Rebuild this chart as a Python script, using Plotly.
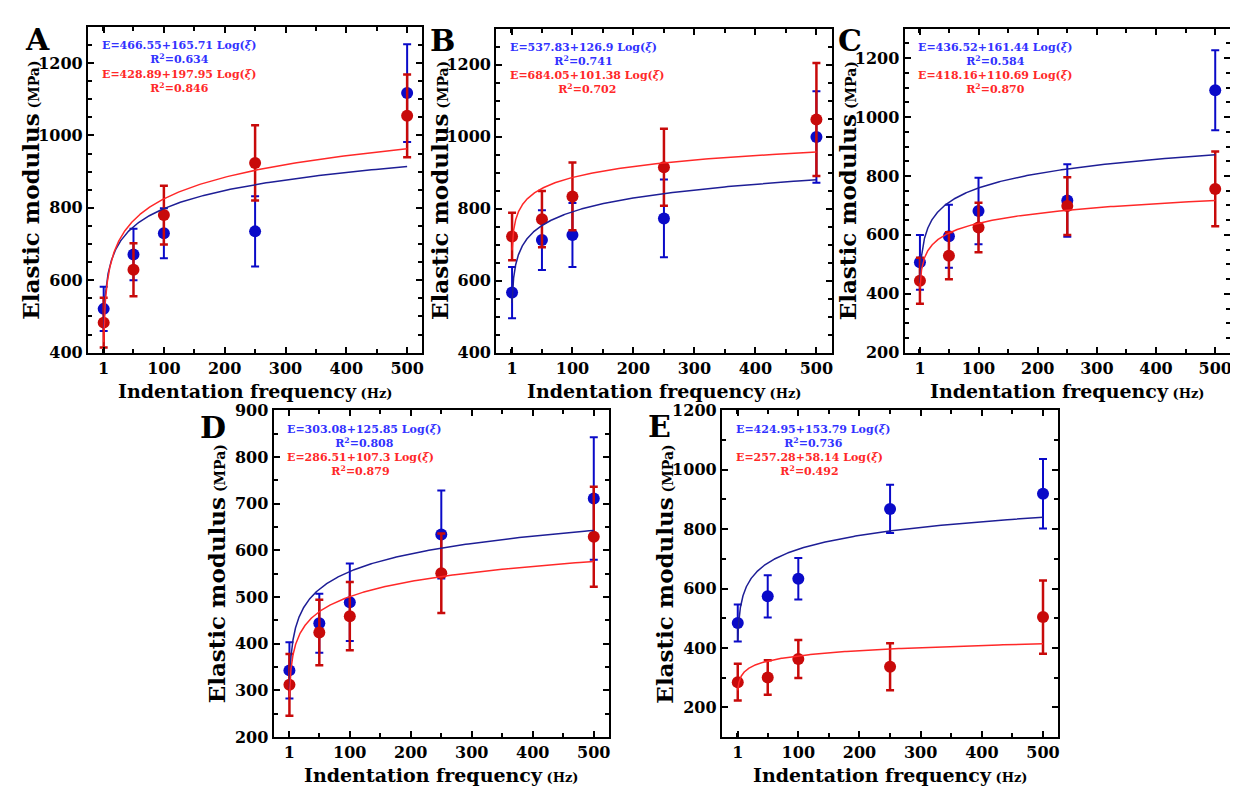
import numpy as np
import plotly.graph_objects as go

# ---------------- data ----------------
panels = ["A", "B", "C", "D", "E"]
freq = [1, 50, 100, 250, 500]
freq_ticks = [1, 100, 200, 300, 400, 500]

blue_A = [521, 671, 730, 735, 1117]
blue_A_err = [61, 71, 69, 97, 135]
red_A = [483, 629, 780, 924, 1054]
red_A_err = [69, 73, 81, 104, 114]

blue_B = [567, 713, 727, 773, 999]
blue_B_err = [71, 83, 89, 108, 127]
red_B = [723, 771, 834, 915, 1048]
red_B_err = [66, 78, 94, 107, 157]

blue_C = [507, 595, 681, 717, 1091]
blue_C_err = [93, 107, 113, 123, 136]
red_C = [444, 529, 625, 698, 756]
red_C_err = [78, 80, 84, 98, 127]

blue_D = [343, 444, 489, 634, 711]
blue_D_err = [60, 63, 83, 94, 131]
red_D = [312, 424, 459, 551, 629]
red_D_err = [66, 70, 73, 85, 107]

blue_E = [484, 574, 633, 868, 919]
blue_E_err = [62, 71, 70, 81, 117]
red_E = [285, 301, 363, 337, 504]
red_E_err = [62, 58, 64, 79, 123]

# fit coefficients E = a + b*Log10(f)
blue_fit_a = [466.55, 537.83, 436.52, 303.08, 424.95]
blue_fit_b = [165.71, 126.9, 161.44, 125.85, 153.79]
blue_r2 = ["0.634", "0.741", "0.584", "0.808", "0.736"]
red_fit_a = [428.89, 684.05, 418.16, 286.51, 257.28]
red_fit_b = [197.95, 101.38, 110.69, 107.3, 58.14]
red_r2 = ["0.846", "0.702", "0.870", "0.879", "0.492"]

blue_vals = [blue_A, blue_B, blue_C, blue_D, blue_E]
blue_errs = [blue_A_err, blue_B_err, blue_C_err, blue_D_err, blue_E_err]
red_vals = [red_A, red_B, red_C, red_D, red_E]
red_errs = [red_A_err, red_B_err, red_C_err, red_D_err, red_E_err]

# ---------------- layout constants ----------------
W, H = 1238, 786
# axes boxes in pixels: (left, right, top, bottom)
boxes = [(80, 415, 10, 344), (489, 825, 12, 344), (898, 1224, 12, 344),
         (266, 602, 403, 738), (715, 1052, 403, 738)]
yranges = [(400, 1300), (400, 1300), (200, 1300), (200, 900), (100, 1200)]
ytickvals = [list(range(400, 1201, 200)), list(range(400, 1201, 200)),
             list(range(200, 1201, 200)), list(range(200, 901, 100)),
             list(range(200, 1201, 200))]
yminor = [50, 50, 50, 50, 100]
letter_pos = [(30, 23), (435, 24), (843, 24), (205, 421), (653, 420)]

BLUE_MK = "#0a0ac8"
RED_MK = "#c80a0a"
BLUE_LN = "#1e1e96"
RED_LN = "#ff2828"
BLUE_TX = "#3232ff"
RED_TX = "#ff2828"
FONT = "DejaVu Serif"

fig = go.Figure()
annotations = []
layout_axes = {}

xcurve = np.geomspace(1, 500, 400)

for i, p in enumerate(panels):
    n = "" if i == 0 else str(i + 1)
    xa, ya = "x" + n, "y" + n
    l, r, t, b = boxes[i]
    xdom = [l / W, r / W]
    ydom = [1 - b / H, 1 - t / H]

    fig.add_trace(go.Scatter(
        x=freq, y=blue_vals[i], mode="markers", xaxis=xa, yaxis=ya,
        marker=dict(color=BLUE_MK, size=12),
        error_y=dict(type="data", array=blue_errs[i], color=BLUE_MK,
                     thickness=2, width=4),
        showlegend=False))
    fig.add_trace(go.Scatter(
        x=freq, y=red_vals[i], mode="markers", xaxis=xa, yaxis=ya,
        marker=dict(color=RED_MK, size=12),
        error_y=dict(type="data", array=red_errs[i], color=RED_MK,
                     thickness=2.5, width=4),
        showlegend=False))
    fig.add_trace(go.Scatter(
        x=xcurve, y=blue_fit_a[i] + blue_fit_b[i] * np.log10(xcurve),
        mode="lines", xaxis=xa, yaxis=ya,
        line=dict(color=BLUE_LN, width=1.5), showlegend=False))
    fig.add_trace(go.Scatter(
        x=xcurve, y=red_fit_a[i] + red_fit_b[i] * np.log10(xcurve),
        mode="lines", xaxis=xa, yaxis=ya,
        line=dict(color=RED_LN, width=1.5), showlegend=False))

    axname = "xaxis" + n
    ayname = "yaxis" + n
    layout_axes[axname] = dict(
        domain=xdom, anchor=ya, range=[-25, 525],
        tickmode="array", tickvals=freq_ticks,
        ticks="inside", ticklen=6, tickwidth=1.5, tickcolor="black",
        minor=dict(tickmode="linear", tick0=0, dtick=50, ticks="inside",
                   ticklen=4, tickwidth=1.5, tickcolor="black"),
        showline=True, linecolor="black", linewidth=2, mirror="allticks",
        showgrid=False, zeroline=False,
        tickfont=dict(family=FONT, size=16, color="black", weight="bold"))
    layout_axes[ayname] = dict(
        domain=ydom, anchor=xa, range=list(yranges[i]),
        tickmode="array", tickvals=ytickvals[i],
        ticks="inside", ticklen=6, tickwidth=1.5, tickcolor="black",
        minor=dict(tickmode="linear", tick0=0, dtick=yminor[i], ticks="inside",
                   ticklen=4, tickwidth=1.5, tickcolor="black"),
        showline=True, linecolor="black", linewidth=2, mirror="allticks",
        showgrid=False, zeroline=False,
        tickfont=dict(family=FONT, size=16, color="black", weight="bold"))

    dx = xa + " domain"
    dy = ya + " domain"
    eqfont = dict(family=FONT, size=11, weight="bold")
    annotations += [
        dict(xref=dx, yref=dy, x=0.035, y=0.92, xanchor="left", yanchor="middle",
             showarrow=False, align="center",
             text=(f"E={blue_fit_a[i]}+{blue_fit_b[i]} Log(<i>ξ</i>)<br>"
                   f"R<sup>2</sup>={blue_r2[i]}"),
             font=dict(color=BLUE_TX, **eqfont)),
        dict(xref=dx, yref=dy, x=0.035, y=0.833, xanchor="left", yanchor="middle",
             showarrow=False, align="center",
             text=(f"E={red_fit_a[i]}+{red_fit_b[i]} Log(<i>ξ</i>)<br>"
                   f"R<sup>2</sup>={red_r2[i]}"),
             font=dict(color=RED_TX, **eqfont)),
    ]
    # axis titles
    annotations.append(dict(
        xref="paper", yref="paper", x=(l - 57) / W, y=1 - (t + b) / 2 / H,
        xanchor="center", yanchor="middle", textangle=-90, showarrow=False,
        text="Elastic modulus<span style='font-size:14px'> (MPa)</span>",
        font=dict(family=FONT, size=23, color="black", weight="bold")))
    annotations.append(dict(
        xref="paper", yref="paper", x=(l + r) / 2 / W, y=1 - (b + 39) / H,
        xanchor="center", yanchor="middle", showarrow=False,
        text="Indentation frequency<span style='font-size:13px'> (Hz)</span>",
        font=dict(family=FONT, size=19, color="black", weight="bold")))
    lx, ly = letter_pos[i]
    annotations.append(dict(
        xref="paper", yref="paper", x=lx / W, y=1 - ly / H,
        xanchor="center", yanchor="middle", showarrow=False, text=p,
        font=dict(family=FONT, size=30, color="black", weight="bold")))

fig.update_layout(
    width=W, height=H, margin=dict(l=0, r=0, t=0, b=0),
    paper_bgcolor="white", plot_bgcolor="white",
    annotations=annotations, **layout_axes)

fig.write_html("out.html")
